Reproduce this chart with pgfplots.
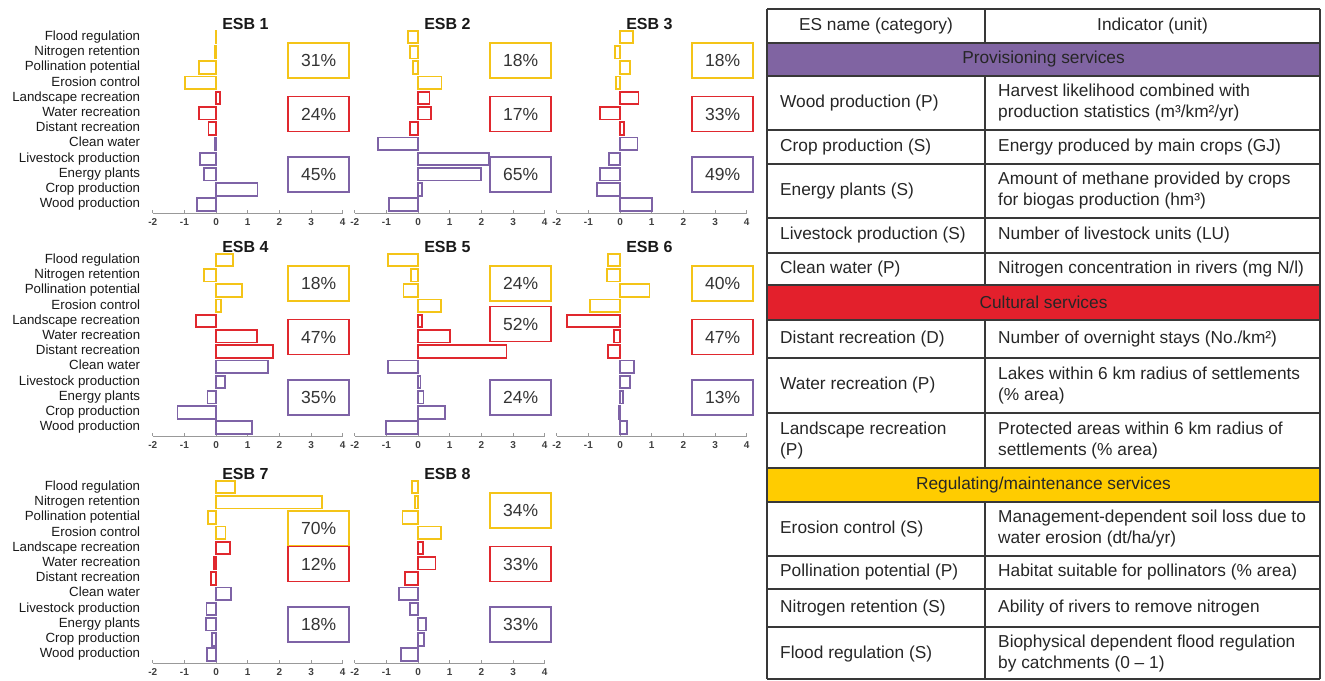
\documentclass[border=0pt]{standalone}
\usepackage{pgfplots}
\pgfplotsset{compat=1.18}
\usepackage{pgfplotstable}
\usepackage{fontspec}
\setmainfont{Liberation Sans}

\definecolor{cprov}{HTML}{7E63A6}
\definecolor{cred}{HTML}{E0282E}
\definecolor{cyel}{HTML}{F4C418}
\definecolor{tprov}{HTML}{8064A2}
\definecolor{tred}{HTML}{E3202C}
\definecolor{tyel}{HTML}{FFCC00}

% y: 0 = Wood production ... 11 = Flood regulation; e1..e8 = ESB 1..8
\pgfplotstableread{
y  e1    e2    e3    e4    e5    e6    e7    e8
0  -0.59 -0.92 1.00  1.14  -1.00 0.23  -0.29 -0.55
1  1.31  0.13  -0.74 -1.22 0.85  -0.05 -0.13 0.18
2  -0.38 2.00  -0.63 -0.27 0.17  0.10  -0.32 0.26
3  -0.50 2.25  -0.34 0.28  0.08  0.32  -0.30 -0.26
4  -0.03 -1.27 0.55  1.63  -0.94 0.44  0.46  -0.60
}\prov
\pgfplotstableread{
y  e1    e2    e3    e4    e5    e6    e7    e8
5  -0.24 -0.26 0.13  1.79  2.79  -0.37 -0.16 -0.42
6  -0.53 0.40  -0.63 1.29  1.00  -0.19 -0.07 0.55
7  0.13  0.36  0.58  -0.64 0.12  -1.68 0.43  0.16
}\cult
\pgfplotstableread{
y  e1    e2    e3    e4    e5    e6    e7    e8
8  -0.97 0.74  -0.12 0.16  0.72  -0.95 0.30  0.72
9  -0.53 -0.15 0.32  0.83  -0.46 0.93  -0.26 -0.49
10 -0.03 -0.26 -0.16 -0.39 -0.22 -0.42 3.35  -0.10
11 -0.02 -0.32 0.42  0.54  -0.94 -0.37 0.60  -0.19
}\regu

\tikzset{
  pbox/.style={draw, line width=1.8pt, minimum width=61pt, minimum height=35pt,
    inner sep=0pt, font=\fontsize{17.5}{17.5}\selectfont, text=black!80},
}
\pgfplotsset{
  panel/.style={
    xbar, x=31.67pt, y=15.23pt, anchor=south west,
    xmin=-2, xmax=4, ymin=-0.55, ymax=11.5,
    bar width=12.5pt, clip=false,
    axis x line=bottom, axis y line=left,
    x axis line style={-, draw=black!40, line width=0.8pt},
    y axis line style={draw=none},
    xtick={-2,...,4}, ytick={0,...,11},
    tick align=inside, major tick length=3pt,
    xtick style={black!40, line width=0.7pt}, ytick style={draw=none},
    /pgf/number format/assume math mode=true,
    xticklabel style={font=\bfseries\fontsize{10}{10}\selectfont, text=black!75,
      inner sep=1pt, yshift=-4pt},
    yticklabel style={font=\fontsize{13.3}{13.3}\selectfont, text=black!90,
      text height=9.5pt, text depth=3pt, xshift=-9pt},
    yticklabels={},
  },
  firstcol/.style={
    yticklabels={Wood production,Crop production,Energy plants,Livestock production,
      Clean water,Distant recreation,Water recreation,Landscape recreation,
      Erosion control,Pollination potential,Nitrogen retention,Flood regulation},
  },
}

\newcommand{\esb}[8]{%
  \begin{axis}[panel,#1]
    \addplot[bar shift=0pt, draw=cprov, fill=white, line width=1.8pt] table[x=#2,y=y]{\prov};
    \addplot[bar shift=0pt, draw=cred, fill=white, line width=1.8pt] table[x=#2,y=y]{\cult};
    \addplot[bar shift=0pt, draw=cyel, fill=white, line width=1.8pt] table[x=#2,y=y]{\regu};
    \node[pbox, draw=cyel] at (axis cs:3.24,#7) {#4};
    \node[pbox, draw=cred] at (axis cs:3.24,#8) {#5};
    \node[pbox, draw=cprov] at (axis cs:3.24,1.98) {#6};
    \node[anchor=base west, inner sep=0pt, font=\bfseries\fontsize{16}{16}\selectfont, text=black!90]
      at (axis cs:0.19,11.5) {#3};
  \end{axis}}

\begin{document}
\begin{tikzpicture}[x=1pt,y=1pt]
\path[use as bounding box] (0,0) rectangle (1325,680);

\esb{at={(152.7pt,467pt)},firstcol}{e1}{ESB 1}{31\%}{24\%}{45\%}{9.46}{5.95}
\esb{at={(354.7pt,467pt)}}{e2}{ESB 2}{18\%}{17\%}{65\%}{9.46}{5.95}
\esb{at={(556.7pt,467pt)}}{e3}{ESB 3}{18\%}{33\%}{49\%}{9.46}{5.95}
\esb{at={(152.7pt,244pt)},firstcol}{e4}{ESB 4}{18\%}{47\%}{35\%}{9.46}{5.95}
\esb{at={(354.7pt,244pt)}}{e5}{ESB 5}{24\%}{52\%}{24\%}{9.46}{6.80}
\esb{at={(556.7pt,244pt)}}{e6}{ESB 6}{40\%}{47\%}{13\%}{9.46}{5.95}
\esb{at={(152.7pt,17pt)},firstcol}{e7}{ESB 7}{70\%}{12\%}{18\%}{8.28}{5.95}
\esb{at={(354.7pt,17pt)}}{e8}{ESB 8}{34\%}{33\%}{33\%}{9.46}{5.95}

% table on the right, in image pixel coordinates (y down)
\begin{scope}[y=-1pt, shift={(0,-680)},
  tl/.style={anchor=west, align=left, inner sep=0pt, font=\fontsize{17.3}{21}\selectfont, text=black!85},
  tc/.style={anchor=center, inner sep=0pt, font=\fontsize{17.3}{21}\selectfont, text=black!85}]
  \fill[tprov] (767,43) rectangle (1320,76);
  \fill[tred] (767,285) rectangle (1320,320);
  \fill[tyel] (767,468) rectangle (1320,502);
  \foreach \r in {9,43,76,130,164,218,253,285,320,358,413,468,502,556,589,627,679}
    \draw[black!78, line width=2pt] (767,\r) -- (1320,\r);
  \draw[black!78, line width=2pt] (767,9) -- (767,679) (1320,9) -- (1320,679)
    (985,9) -- (985,43) (985,76) -- (985,285) (985,320) -- (985,468) (985,502) -- (985,679);

  \node[tc] at (876,26) {ES name (category)};
  \node[tc] at (1152.5,26) {Indicator (unit)};
  \node[tc] at (1043.5,59.5) {Provisioning services};
  \node[tl] at (780,103) {Wood production (P)};
  \node[tl] at (998,103) {Harvest likelihood combined with\\production statistics (m³/km²/yr)};
  \node[tl] at (780,147) {Crop production (S)};
  \node[tl] at (998,147) {Energy produced by main crops (GJ)};
  \node[tl] at (780,191) {Energy plants (S)};
  \node[tl] at (998,191) {Amount of methane provided by crops\\for biogas production (hm³)};
  \node[tl] at (780,235.5) {Livestock production (S)};
  \node[tl] at (998,235.5) {Number of livestock units (LU)};
  \node[tl] at (780,269) {Clean water (P)};
  \node[tl] at (998,269) {Nitrogen concentration in rivers (mg N/l)};
  \node[tc] at (1043.5,302.5) {Cultural services};
  \node[tl] at (780,339) {Distant recreation (D)};
  \node[tl] at (998,339) {Number of overnight stays (No./km²)};
  \node[tl] at (780,385.5) {Water recreation (P)};
  \node[tl] at (998,385.5) {Lakes within 6 km radius of settlements\\(\% area)};
  \node[tl] at (780,440.5) {Landscape recreation\\(P)};
  \node[tl] at (998,440.5) {Protected areas within 6 km radius of\\settlements (\% area)};
  \node[tc] at (1043.5,485) {Regulating/maintenance services};
  \node[tl] at (780,529) {Erosion control (S)};
  \node[tl] at (998,529) {Management-dependent soil loss due to\\water erosion (dt/ha/yr)};
  \node[tl] at (780,572.5) {Pollination potential (P)};
  \node[tl] at (998,572.5) {Habitat suitable for pollinators (\% area)};
  \node[tl] at (780,608) {Nitrogen retention (S)};
  \node[tl] at (998,608) {Ability of rivers to remove nitrogen};
  \node[tl] at (780,654) {Flood regulation (S)};
  \node[tl] at (998,654) {Biophysical dependent flood regulation\\by catchments (0 – 1)};
\end{scope}
\end{tikzpicture}
\end{document}
